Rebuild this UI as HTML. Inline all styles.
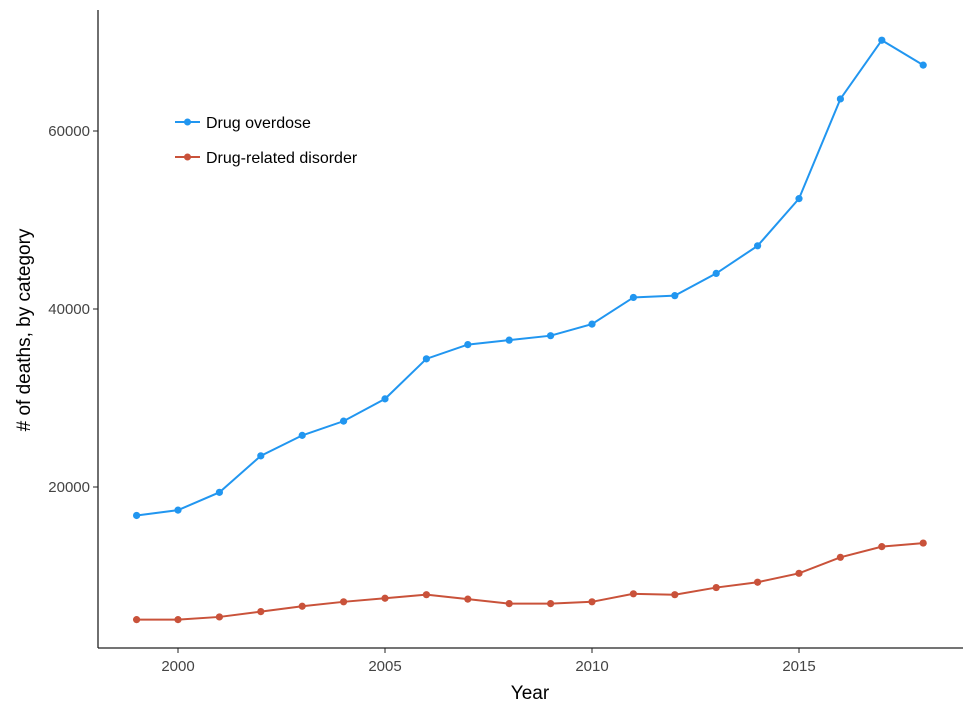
<!DOCTYPE html>
<html><head><meta charset="utf-8"><style>
body{margin:0;background:#fff}
svg{display:block;font-family:"Liberation Sans",Arial,sans-serif}
</style></head><body>
<svg id="chart" width="977" height="716">
<line x1="98" y1="10" x2="98" y2="648" stroke="#222" stroke-width="1.3"/>
<line x1="98" y1="648" x2="963" y2="648" stroke="#222" stroke-width="1.3"/>
<g id="xt"></g>
<g id="yt"></g>
<text x="530" y="699" font-size="19" text-anchor="middle" fill="#000">Year</text>
<text transform="translate(30,330) rotate(-90)" font-size="19" text-anchor="middle" fill="#000"># of deaths, by category</text>
<g id="series"></g>
<g>
<g>
<line x1="175" y1="122" x2="200" y2="122" stroke="#2196F0" stroke-width="2"/><circle cx="187.5" cy="122" r="3.5" fill="#2196F0"/>
<text x="206" y="128" font-size="16">Drug overdose</text></g>
<g>
<line x1="175" y1="157" x2="200" y2="157" stroke="#C9523A" stroke-width="2"/><circle cx="187.5" cy="157" r="3.5" fill="#C9523A"/>
<text x="206" y="163" font-size="16">Drug-related disorder</text></g>
</g>
</svg>
<script>
const years=[1999,2000,2001,2002,2003,2004,2005,2006,2007,2008,2009,2010,2011,2012,2013,2014,2015,2016,2017,2018];
const overdose=[16800,17400,19400,23500,25800,27400,29900,34400,36000,36500,37000,38300,41300,41500,44000,47100,52400,63600,70200,67400];
const disorder=[5100,5100,5400,6000,6600,7100,7500,7900,7400,6900,6900,7100,8000,7900,8700,9300,10300,12100,13300,13700];
const xTicks=[2000,2005,2010,2015];
const yTicks=[20000,40000,60000];
const ns="http://www.w3.org/2000/svg";
function xs(v){return 178+(v-2000)*41.4;}
function ys(v){return 665-v*0.0089;}
function mk(t,a,p){const e=document.createElementNS(ns,t);for(const k in a)e.setAttribute(k,a[k]);p.appendChild(e);return e;}
const xt=document.getElementById('xt'),yt=document.getElementById('yt'),sg=document.getElementById('series');
xTicks.forEach(v=>{
 const l=mk('line',{x1:xs(v),x2:xs(v),y1:648,y2:653,stroke:'#222'},xt);
 
 
 const t=mk('text',{x:xs(v),y:671,'font-size':15,'text-anchor':'middle',fill:'#444'},xt);t.textContent=v;
 
 
});
yTicks.forEach(v=>{
 const l=mk('line',{x1:93,x2:98,y1:ys(v),y2:ys(v),stroke:'#222'},yt);
 
 
 const t=mk('text',{x:90,y:ys(v)+5,'font-size':15,'text-anchor':'end',fill:'#444'},yt);t.textContent=v;
 
 
});
function draw(vals,col,name){
 const p=mk('polyline',{points:vals.map((v,i)=>xs(years[i])+','+ys(v)).join(' '),fill:'none',stroke:col,'stroke-width':2},sg);
 
 
 vals.forEach((v,i)=>{
  const c=mk('circle',{cx:xs(years[i]),cy:ys(v),r:3.6,fill:col},sg);
  
  
 });
}
draw(overdose,'#2196F0','overdose');
draw(disorder,'#C9523A','disorder');
</script>
</body></html>
